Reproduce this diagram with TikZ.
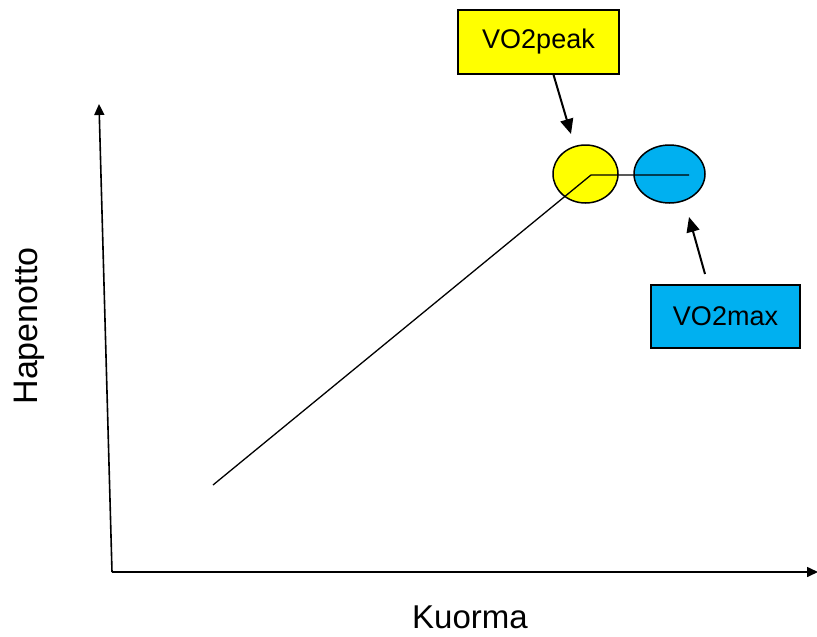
\documentclass[tikz,border=0pt]{standalone}
\usepackage{fontspec}
\setmainfont{Liberation Sans}
\usetikzlibrary{arrows.meta,shapes.geometric}
\definecolor{peakyellow}{RGB}{255,255,0}
\definecolor{maxblue}{RGB}{0,176,240}

\begin{document}
\begin{tikzpicture}[x=1pt, y=-1pt,
    axis/.style={line width=1.6pt, -{Triangle[length=11pt,width=10pt]}},
    callout/.style={line width=2pt, -{Triangle[length=15pt,width=13pt]}},
    tag/.style={draw, line width=1.5pt, inner sep=0pt, font=\fontsize{27}{31}\selectfont},
    blob/.style={ellipse, draw, line width=1.5pt, inner sep=0pt}]
  \useasboundingbox (0,0) rectangle (817,637);
  % axes
  \coordinate (origo) at (112,572);
  \coordinate (ytop) at (99,104);
  \coordinate (xend) at (818,572);
  \draw[axis] (origo) -- (ytop);
  \draw[axis] (origo) -- (xend);
  \node[font=\fontsize{33}{38}\selectfont, anchor=base, inner sep=0pt] (kuorma) at (470,628) {Kuorma};
  \node[font=\fontsize{34}{38}\selectfont, rotate=90, anchor=base, inner sep=0pt] (hapenotto) at (37,326) {Hapenotto};
  % plateau markers
  \node[blob, fill=peakyellow, minimum width=65pt, minimum height=58pt] (peak) at (585.5,174) {};
  \node[blob, fill=maxblue, minimum width=71pt, minimum height=58pt] (max) at (669.5,174) {};
  % oxygen uptake curve
  \coordinate (start) at (213,485);
  \coordinate (knee) at (591,175);
  \coordinate (stop) at (689,175);
  \draw[line width=1.3pt] (start) -- (knee) -- (stop);
  % labels
  \node[tag, fill=peakyellow, minimum width=161pt, minimum height=64pt] (peaklabel) at (538.5,42) {VO2peak};
  \node[tag, fill=maxblue, minimum width=149pt, minimum height=63pt] (maxlabel) at (725.5,316.5) {VO2max};
  \coordinate (peaktip) at (571,134);
  \coordinate (maxtip) at (689,217);
  \coordinate (maxtail) at (705,274);
  \draw[callout] (peaklabel.south) ++(15,0) coordinate (peaktail) (peaktail) -- (peaktip);
  \draw[callout] (maxtail) -- (maxtip);
\end{tikzpicture}
\end{document}
